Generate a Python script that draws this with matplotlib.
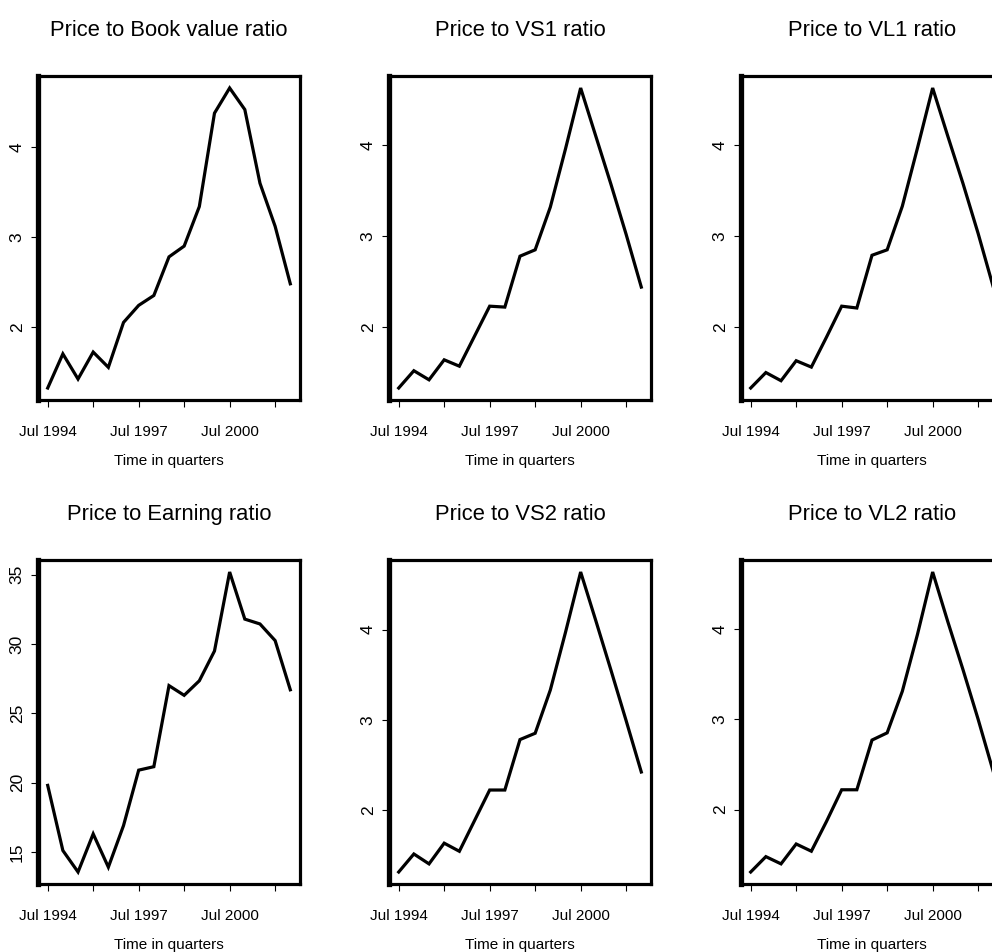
import numpy as np
import matplotlib
matplotlib.use("Agg")
import matplotlib.pyplot as plt

plt.rcParams['font.family'] = ['Liberation Sans', 'DejaVu Sans']

# half-yearly observations, Jul 1994 .. Jul 2002
years = np.arange(17) * 0.5 + 1994.5

book = [1.32, 1.70, 1.42, 1.72, 1.55, 2.05, 2.24, 2.35, 2.78, 2.90,
        3.34, 4.38, 4.66, 4.42, 3.60, 3.12, 2.48]
vs1 = [1.33, 1.52, 1.42, 1.64, 1.57, 1.90, 2.23, 2.22, 2.78, 2.85,
       3.32, 3.96, 4.63, 4.10, 3.57, 3.02, 2.44]
vl1 = [1.33, 1.50, 1.41, 1.63, 1.56, 1.89, 2.23, 2.21, 2.79, 2.85,
       3.33, 3.97, 4.63, 4.10, 3.58, 3.03, 2.44]
earn = [19.8, 15.1, 13.55, 16.3, 13.9, 16.9, 20.9, 21.15, 27.0, 26.3,
        27.35, 29.5, 35.2, 31.8, 31.45, 30.25, 26.7]
vs2 = [1.31, 1.51, 1.40, 1.63, 1.54, 1.88, 2.22, 2.22, 2.78, 2.85,
       3.33, 3.97, 4.64, 4.10, 3.55, 2.99, 2.42]
vl2 = [1.31, 1.48, 1.40, 1.62, 1.54, 1.87, 2.22, 2.22, 2.77, 2.85,
       3.31, 3.94, 4.63, 4.08, 3.55, 3.00, 2.42]

titles = ["Price to Book value ratio", "Price to VS1 ratio", "Price to VL1 ratio",
          "Price to Earning ratio", "Price to VS2 ratio", "Price to VL2 ratio"]
series = [book, vs1, vl1, earn, vs2, vl2]

xticks = [1994.5, 1996.0, 1997.5, 1999.0, 2000.5, 2002.0]
xticklabels = ["Jul 1994", "", "Jul 1997", "", "Jul 2000", ""]
yticks_ratio = [2, 3, 4]
yticks_pe = [15, 20, 25, 30, 35]

W, H = 992, 952
fig = plt.figure(figsize=(W / 100, H / 100), dpi=100)

lefts = [38, 389, 741]
tops = [76, 560]
aw, ah = 262, 324

for i, (vals, ttl) in enumerate(zip(series, titles)):
    r, c = divmod(i, 3)
    ax = fig.add_axes([lefts[c] / W, 1 - (tops[r] + ah) / H, aw / W, ah / H])
    ax.plot(years, vals, color='black', lw=2.3, solid_joinstyle='miter')

    # R style 4% padding
    lo, hi = min(vals), max(vals)
    ax.set_ylim(lo - 0.04 * (hi - lo), hi + 0.04 * (hi - lo))
    ax.set_xlim(years[0] - 0.04 * (years[-1] - years[0]),
                years[-1] + 0.04 * (years[-1] - years[0]))

    ax.set_xticks(xticks)
    ax.set_xticklabels(xticklabels)
    ax.set_yticks(yticks_pe if ttl == "Price to Earning ratio" else yticks_ratio)
    ax.tick_params(axis='both', direction='out', length=5, width=0.8)
    ax.tick_params(axis='x', labelsize=11, pad=13)
    ax.tick_params(axis='y', labelsize=12.5, pad=4.5, labelrotation=90)
    for lab in ax.get_yticklabels():
        lab.set_va('center')

    for side in ['top', 'right', 'bottom']:
        ax.spines[side].set_linewidth(2.3)
    ax.spines['left'].set_linewidth(3.8)

    ax.set_title(ttl, fontsize=15.8, pad=28.5)
    ax.set_xlabel("Time in quarters", fontsize=11, labelpad=11)

plt.savefig("out.png", dpi=100)
